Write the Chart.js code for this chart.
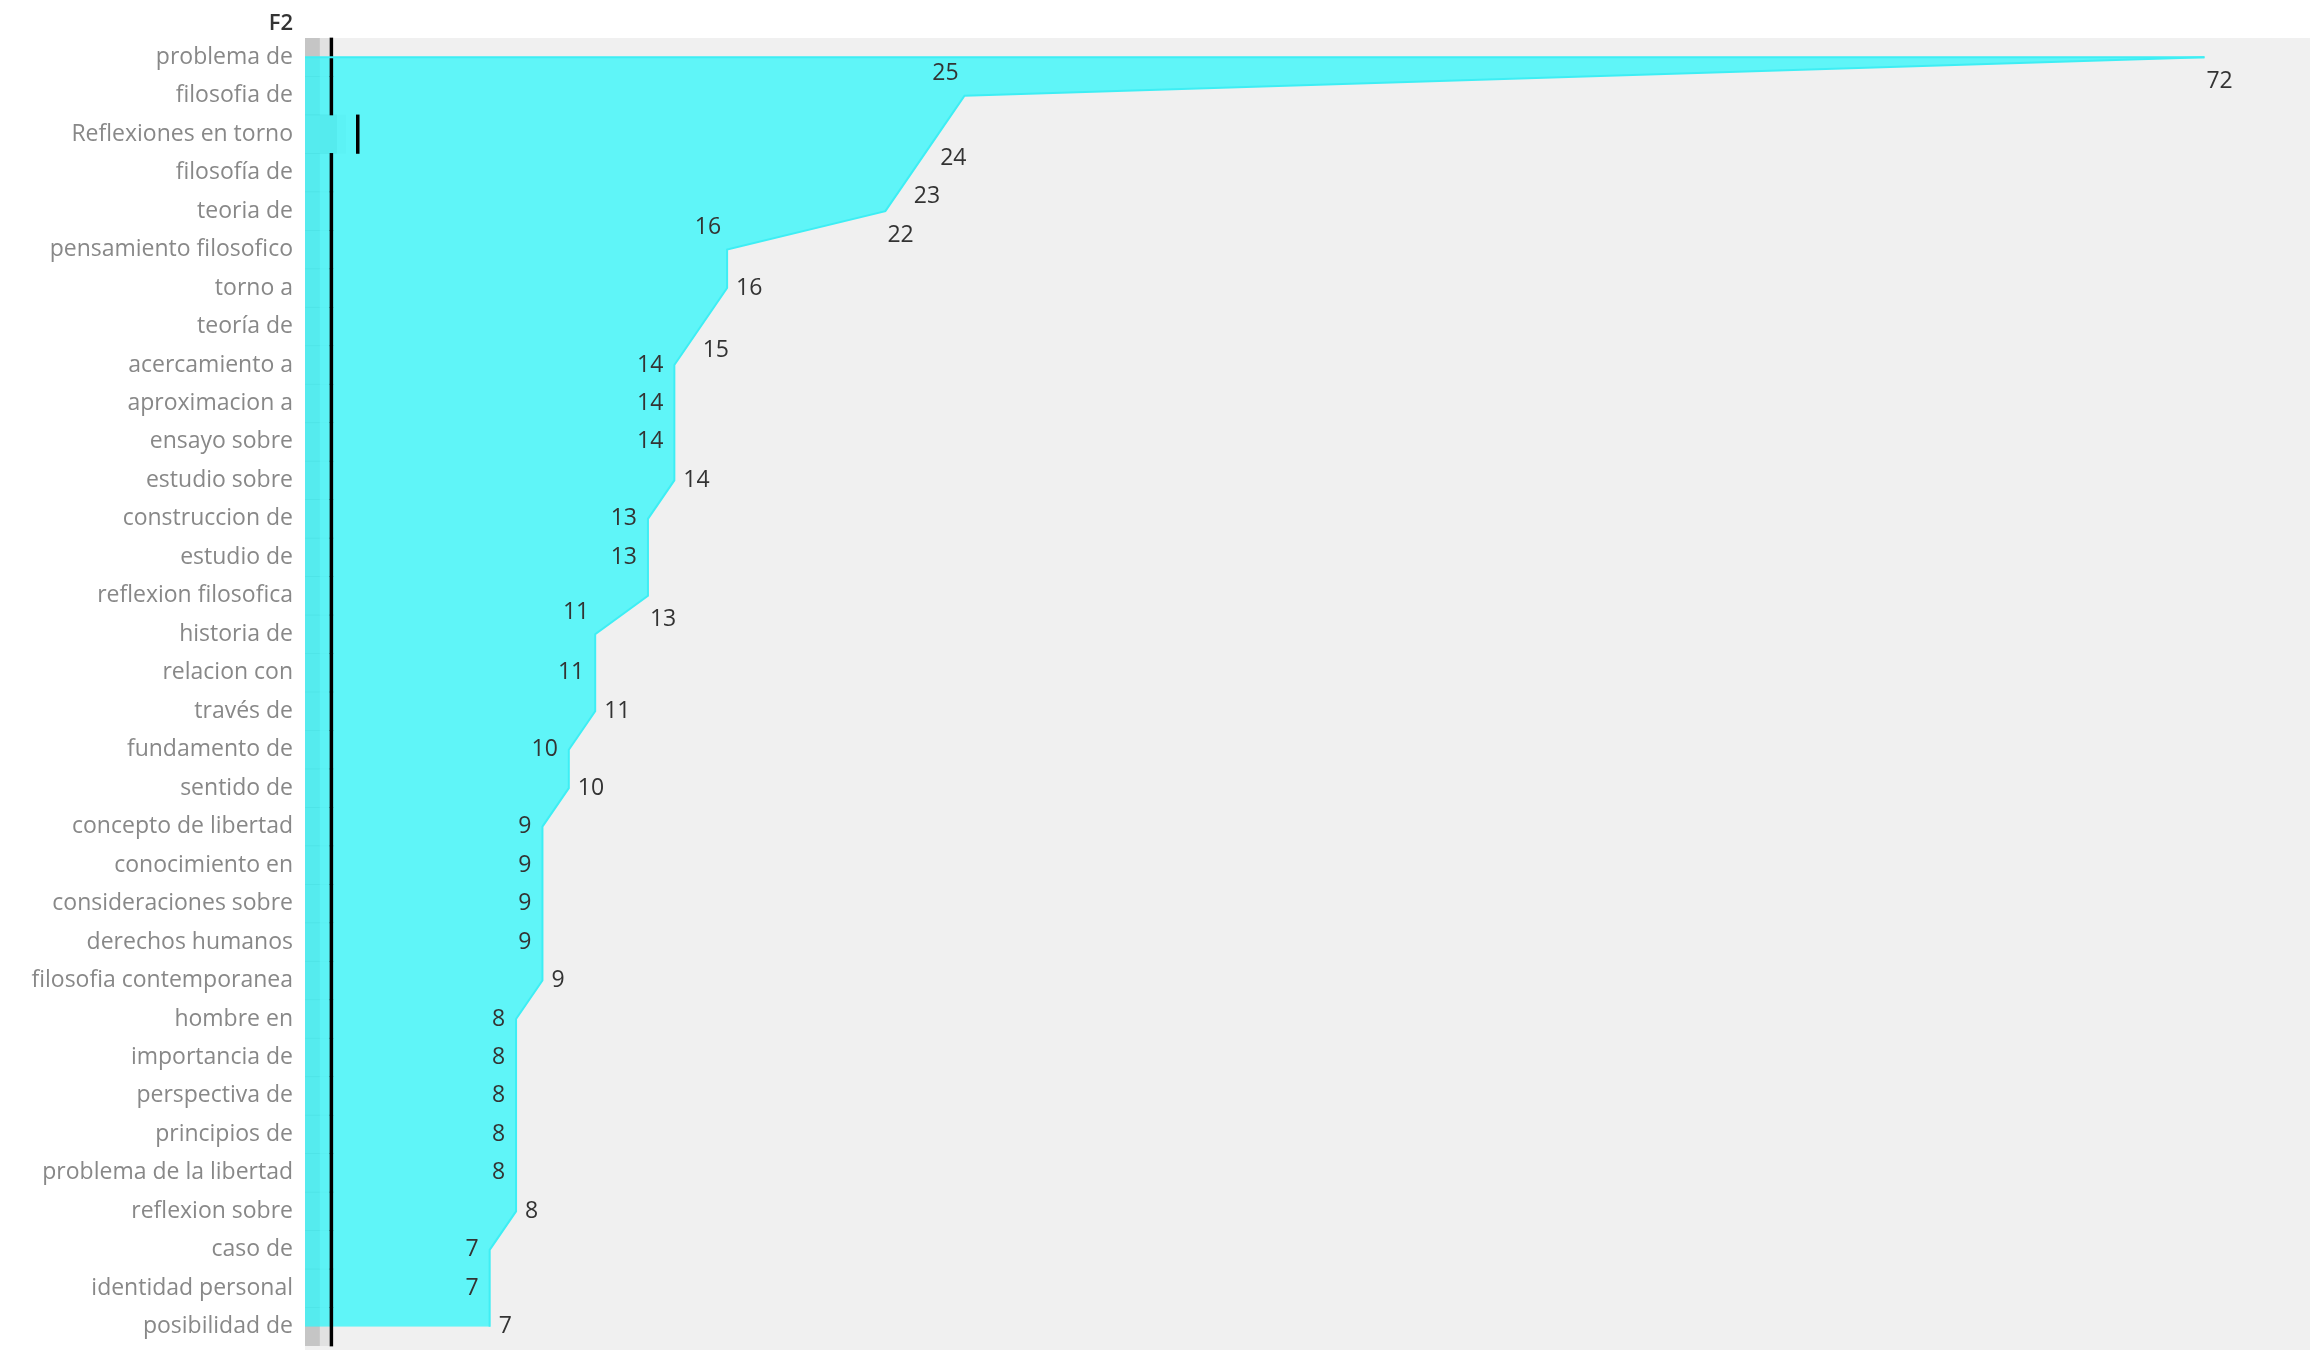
<!DOCTYPE html>
<html>
<head>
<meta charset="utf-8">
<script src="https://cdn.jsdelivr.net/npm/chart.js@4.4.1/dist/chart.umd.min.js"></script>
<style>
  html, body { margin: 0; padding: 0; background: #fff; overflow: hidden; }
  canvas { display: block; }
</style>
</head>
<body>
<canvas id="myChart" width="2310" height="1350"></canvas>
<script>
const categorias = [
  "problema de", "filosofia de", "Reflexiones en torno", "filosofía de", "teoria de",
  "pensamiento filosofico", "torno a", "teoría de", "acercamiento a", "aproximacion a",
  "ensayo sobre", "estudio sobre", "construccion de", "estudio de", "reflexion filosofica",
  "historia de", "relacion con", "través de", "fundamento de", "sentido de",
  "concepto de libertad", "conocimiento en", "consideraciones sobre", "derechos humanos",
  "filosofia contemporanea", "hombre en", "importancia de", "perspectiva de", "principios de",
  "problema de la libertad", "reflexion sobre", "caso de", "identidad personal", "posibilidad de"
];

const frecuencias = [72, 25, 24, 23, 22, 16, 16, 15, 14, 14, 14, 14, 13, 13, 13, 11, 11, 11,
  10, 10, 9, 9, 9, 9, 9, 8, 8, 8, 8, 8, 8, 7, 7, 7];

// marca negra por fila
const marcas = [1, 1, 2, 1, 1, 1, 1, 1, 1, 1, 1, 1, 1, 1, 1, 1, 1, 1,
  1, 1, 1, 1, 1, 1, 1, 1, 1, 1, 1, 1, 1, 1, 1, 1];

// bandas grises a la izquierda
const bandaInterior = [0.55, 0.55, 1.2, 0.55, 0.55, 0.55, 0.55, 0.55, 0.55, 0.55, 0.55, 0.55,
  0.55, 0.55, 0.55, 0.55, 0.55, 0.55, 0.55, 0.55, 0.55, 0.55, 0.55, 0.55, 0.55, 0.55, 0.55,
  0.55, 0.55, 0.55, 0.55, 0.55, 0.55, 0.55];
const bandaExterior = [0.9, 0.9, 1.55, 0.9, 0.9, 0.9, 0.9, 0.9, 0.9, 0.9, 0.9, 0.9,
  0.9, 0.9, 0.9, 0.9, 0.9, 0.9, 0.9, 0.9, 0.9, 0.9, 0.9, 0.9, 0.9, 0.9, 0.9,
  0.9, 0.9, 0.9, 0.9, 0.9, 0.9, 0.9];

const fondoPlugin = {
  id: "fondo",
  beforeDraw(chart) {
    const { ctx, chartArea } = chart;
    ctx.save();
    ctx.fillStyle = "#f0f0f0";
    ctx.fillRect(chartArea.left, chartArea.top, chartArea.right - chartArea.left, chart.height - chartArea.top);
    ctx.font = '600 22px "Open Sans"';
    ctx.fillStyle = "#333";
    ctx.textAlign = "right";
    ctx.textBaseline = "middle";
    ctx.fillText("F2", chartArea.left - 12, chartArea.top - 14);
    ctx.restore();
  },
};

const etiquetasPlugin = {
  id: "etiquetas",
  afterDatasetsDraw(chart) {
    const ctx = chart.ctx;
    const meta = chart.getDatasetMeta(2);
    const xScale = chart.scales.x;
    ctx.save();
    // borde superior del area
    const p0 = meta.data[0];
    ctx.strokeStyle = "#3eeef4";
    ctx.lineWidth = 2;
    ctx.beginPath();
    ctx.moveTo(xScale.getPixelForValue(0), p0.y);
    ctx.lineTo(p0.x, p0.y);
    ctx.stroke();

    ctx.font = '23px "Open Sans"';
    ctx.fillStyle = "#333";
    ctx.textBaseline = "middle";
    meta.data.forEach((pt, i) => {
      const v = frecuencias[i];
      const prev = i > 0 ? frecuencias[i - 1] : null;
      const next = i < frecuencias.length - 1 ? frecuencias[i + 1] : null;
      let x = pt.x;
      let y = pt.y;
      if (prev !== null && prev - v >= 2) {
        ctx.textAlign = "right";
        x -= 6;
        y -= 22;
      } else if (next === null || next < v) {
        ctx.textAlign = "left";
        if (prev === null || prev > v || (next !== null && v - next >= 2)) {
          x += 2;
          y += 24;
        } else {
          x += 9;
        }
      } else {
        ctx.textAlign = "right";
        x -= 11;
      }
      ctx.fillText(String(v), x, y);
    });
    ctx.restore();
  },
};

const ctx = document.getElementById("myChart").getContext("2d");

const data = {
  labels: categorias,
  datasets: [
    {
      type: "bar",
      label: "banda exterior",
      data: bandaExterior,
      backgroundColor: "rgba(0, 0, 0, 0.06)",
      categoryPercentage: 1,
      barPercentage: 1,
      grouped: false,
      order: 4,
    },
    {
      type: "bar",
      label: "banda interior",
      data: bandaInterior,
      backgroundColor: "rgba(0, 0, 0, 0.12)",
      categoryPercentage: 1,
      barPercentage: 1,
      grouped: false,
      order: 3,
    },
    {
      type: "line",
      label: "Frecuencia",
      data: frecuencias,
      borderColor: "#3eeef4",
      borderWidth: 2,
      backgroundColor: "rgba(47, 247, 251, 0.75)",
      fill: "origin",
      tension: 0,
      pointRadius: 0,
      order: 2,
    },
    {
      type: "line",
      label: "Marca",
      data: marcas,
      showLine: false,
      fill: false,
      pointStyle: "line",
      pointRotation: 90,
      pointRadius: 19.6,
      pointBorderWidth: 3.5,
      pointBorderColor: "#000",
      pointBackgroundColor: "#000",
      order: 1,
    },
  ],
};

const config = {
  type: "bar",
  data: data,
  options: {
    indexAxis: "y",
    responsive: false,
    animation: false,
    events: [],
    layout: {
      autoPadding: false,
      padding: { top: 38, left: 0, right: 0, bottom: 4 },
    },
    plugins: {
      legend: { display: false },
      tooltip: { enabled: false },
    },
    scales: {
      x: {
        display: false,
        min: 0,
        max: 76,
      },
      y: {
        grid: { display: false, drawTicks: false },
        border: { display: false },
        ticks: {
          color: "#888",
          font: { family: "Open Sans", size: 23 },
          padding: 12,
          autoSkip: false,
        },
        afterFit(scale) {
          scale.width = 305;
          scale.paddingTop = 0;
          scale.paddingBottom = 0;
        },
      },
    },
  },
  plugins: [fondoPlugin, etiquetasPlugin],
};

const grafico = new Chart(ctx, config);
</script>
</body>
</html>
